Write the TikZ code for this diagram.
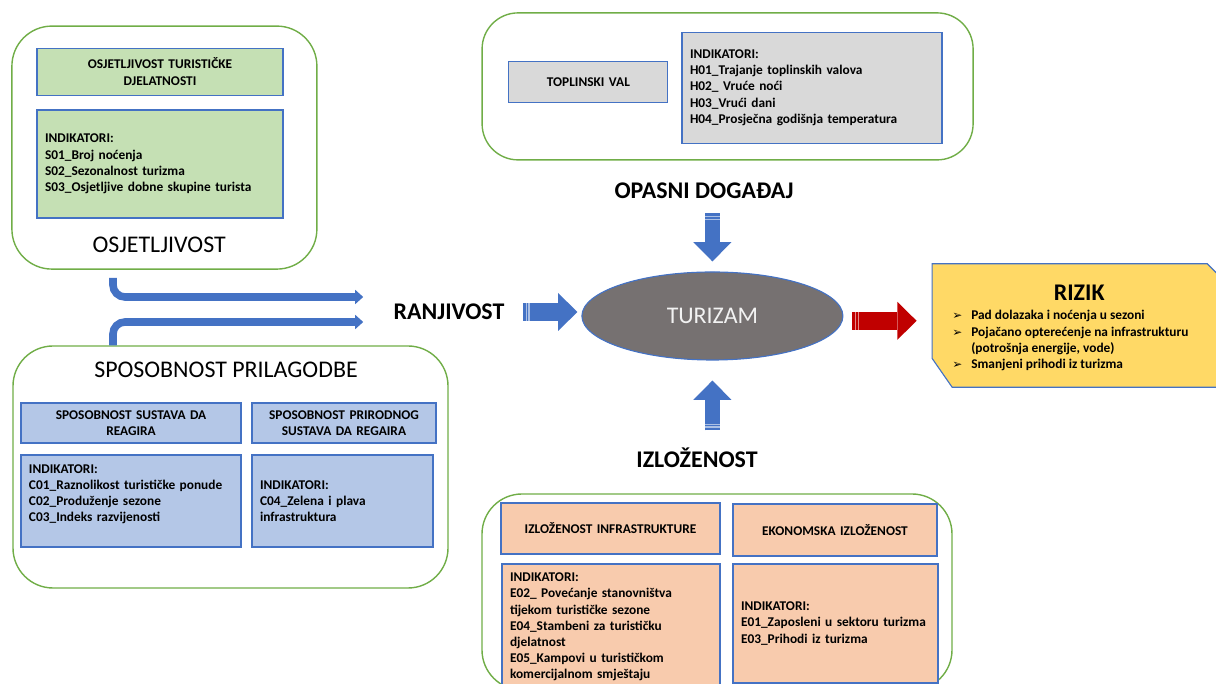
\documentclass[tikz,border=0pt]{standalone}
\usepackage{fontspec}
\setmainfont{Carlito}
\newfontfamily\arrowfont{DejaVu Sans}
\usetikzlibrary{arrows.meta,shapes.geometric}
\newcommand\smalltxt{\fontsize{9.5}{11.5}\selectfont\bfseries}
\newcommand\bigtxt{\fontsize{17}{20}\selectfont}
\newcommand\pointer{\makebox[0.475cm][l]{\arrowfont\fontsize{8.5}{8}\selectfont ➢}}

\begin{document}
\begin{tikzpicture}[
    panel/.style={shape=rectangle,draw=tur_panel,line width=1pt,rounded corners=1cm},
    box/.style={shape=rectangle,draw=tur_line,line width=0.8pt,inner xsep=0.2cm,inner ysep=0pt,font=\smalltxt},
    headbox/.style={box,align=center},
    indbox/.style={box,align=left},
    title/.style={font=\bigtxt,inner sep=1pt},
    bigbold/.style={font=\bigtxt\bfseries,inner sep=1pt},
    flow/.style={draw=tur_arrow,line width=0.19cm,rounded corners=0.3cm,-{Triangle[length=0.2cm,width=0.36cm,line width=0pt]}},
    bigarrow/.style={draw=#1,line width=0.46cm,-{Triangle[length=0.48cm,width=0.95cm,line width=0pt]},
        postaction={draw=white!55!#1,-,dash pattern=on 0pt off 2pt on 0.8pt off 1.2pt on 0.8pt off 100cm}},
  ]
    \definecolor{tur_panel}{RGB}{112,173,71}
    \definecolor{tur_line}{RGB}{68,114,196}
    \definecolor{tur_green}{RGB}{197,224,180}
    \definecolor{tur_grey}{RGB}{217,217,217}
    \definecolor{tur_blue}{RGB}{180,199,231}
    \definecolor{tur_orange}{RGB}{248,203,173}
    \definecolor{tur_yellow}{RGB}{255,217,102}
    \definecolor{tur_ellipse}{RGB}{118,113,113}
    \definecolor{tur_arrow}{RGB}{68,114,196}
    \definecolor{tur_red}{RGB}{192,0,0}
    \useasboundingbox (0,0) rectangle (30.4,17.1);

    % osjetljivost
    \node[panel,minimum width=7.625cm,minimum height=6.075cm] (osjP) at (4.11,13.41) {};
    \node[headbox,fill=tur_green,text width=5.75cm,minimum height=1.175cm] (osjH) at (4.0,15.31) {OSJETLJIVOST TURISTIČKE\\DJELATNOSTI};
    \node[indbox,fill=tur_green,text width=5.75cm,minimum height=2.7cm] (osjI) at (4.0,13.0) {INDIKATORI:\\S01\_Broj noćenja\\S02\_Sezonalnost turizma\\S03\_Osjetljive dobne skupine turista};
    \node[title] (osjT) at (3.98,10.98) {OSJETLJIVOST};

    % opasni dogadjaj
    \node[panel,rounded corners=0.9cm,minimum width=12.275cm,minimum height=3.675cm] (hazP) at (18.19,14.94) {};
    \node[headbox,fill=tur_grey,text width=3.575cm,minimum height=1.025cm] (hazH) at (14.71,15.04) {TOPLINSKI VAL};
    \node[indbox,fill=tur_grey,text width=6.1cm,minimum height=2.775cm] (hazI) at (20.3,14.91) {INDIKATORI:\\H01\_Trajanje toplinskih valova\\H02\_ Vruće noći\\H03\_Vrući dani\\H04\_Prosječna godišnja temperatura};
    \node[bigbold] (hazT) at (17.6,12.33) {OPASNI DOGAĐAJ};

    % sposobnost prilagodbe
    \node[panel,minimum width=10.875cm,minimum height=6.05cm] (spP) at (5.7625,5.425) {};
    \node[title] (spT) at (5.65,7.85) {SPOSOBNOST PRILAGODBE};
    \node[headbox,fill=tur_blue,text width=5.1cm,minimum height=1.0cm] (spAH) at (3.275,6.525) {SPOSOBNOST SUSTAVA DA\\REAGIRA};
    \node[headbox,fill=tur_blue,text width=4.2cm,minimum height=1.0cm] (spBH) at (8.6,6.525) {SPOSOBNOST PRIRODNOG\\SUSTAVA DA REGAIRA};
    \node[indbox,fill=tur_blue,text width=5.1cm,minimum height=2.3cm] (spAI) at (3.275,4.575) {INDIKATORI:\\C01\_Raznolikost turističke ponude\\C02\_Produženje sezone\\C03\_Indeks razvijenosti\\\mbox{}};
    \node[indbox,fill=tur_blue,text width=4.125cm,minimum height=2.3cm] (spBI) at (8.5625,4.575) {INDIKATORI:\\C04\_Zelena i plava\\infrastruktura};

    % izlozenost
    \node[panel,minimum width=11.75cm,minimum height=4.9cm] (exP) at (17.925,2.3) {};
    \node[headbox,fill=tur_orange,text width=5.075cm,minimum height=1.275cm] (exAH) at (15.2625,3.8875) {IZLOŽENOST INFRASTRUKTURE};
    \node[headbox,fill=tur_orange,text width=4.7cm,minimum height=1.3cm] (exBH) at (20.875,3.85) {EKONOMSKA IZLOŽENOST};
    \node[indbox,fill=tur_orange,text width=5.05cm,minimum height=3.15cm] (exAI) at (15.275,1.425) {INDIKATORI:\\E02\_ Povećanje stanovništva\\tijekom turističke sezone\\E04\_Stambeni za turističku\\djelatnost\\E05\_Kampovi u turističkom\\komercijalnom smještaju};
    \node[indbox,fill=tur_orange,text width=4.725cm,minimum height=2.975cm] (exBI) at (20.8875,1.5125) {INDIKATORI:\\E01\_Zaposleni u sektoru turizma\\E03\_Prihodi iz turizma};
    \node[bigbold] (izl) at (17.425,5.65) {IZLOŽENOST};

    % centre
    \node[shape=ellipse,draw=tur_line,line width=0.8pt,fill=tur_ellipse,text=white!95!black,font=\bigtxt,minimum width=6.525cm,minimum height=2.2cm,inner sep=0pt] (tur) at (17.81,9.2) {TURIZAM};
    \node[bigbold] (ranj) at (11.225,9.3) {RANJIVOST};

    % rizik
    \node[minimum width=7.3375cm,minimum height=3.075cm,inner sep=0pt] (rizik) at (26.98,8.9625) {};
    \draw[draw=tur_line,line width=0.8pt,fill=tur_yellow] (rizik.north west) -- ([xshift=-0.475cm]rizik.north east) -- ([yshift=-0.475cm]rizik.north east)
        -- (rizik.south east) -- ([xshift=0.5cm]rizik.south west) -- ([yshift=0.72cm]rizik.south west) -- cycle;
    \node[bigbold] (rizT) at ([yshift=-0.72cm]rizik.north) {RIZIK};
    \node[font=\smalltxt,anchor=west,inner sep=0pt] (rizL) at (23.8,8.575) {\begin{tabular}{@{}l@{}l@{}}
        \pointer & Pad dolazaka i noćenja u sezoni\\
        \pointer & Pojačano opterećenje na infrastrukturu\\
                 & (potrošnja energije, vode)\\
        \pointer & Smanjeni prihodi iz turizma
      \end{tabular}};

    % arrows
    \coordinate (flowX) at (2.825,0);
    \coordinate (osjEnd) at (9.08,9.675);
    \coordinate (spEnd) at (9.08,9.05);
    \draw[flow] ([yshift=-0.2cm]osjP.south -| flowX) |- (osjEnd);
    \draw[flow] (spP.north -| flowX) |- (spEnd);
    \draw[bigarrow=tur_arrow,shorten <=0.42cm,shorten >=0.1cm] (ranj.east) -- (ranj.east -| tur.west);
    \draw[bigarrow=tur_arrow,line width=0.38cm,shorten <=0.32cm,shorten >=0.25cm] (hazT.south -| tur.north) -- (tur.north);
    \draw[bigarrow=tur_arrow,line width=0.38cm,shorten <=0.4cm,shorten >=0.5cm] (izl.north -| tur.south) -- (tur.south);
    \draw[bigarrow=tur_red,shorten <=0.225cm,shorten >=0.39cm] ([yshift=-0.12cm]tur.east) -- ([yshift=-0.12cm]tur.east -| rizik.west);
\end{tikzpicture}
\end{document}
